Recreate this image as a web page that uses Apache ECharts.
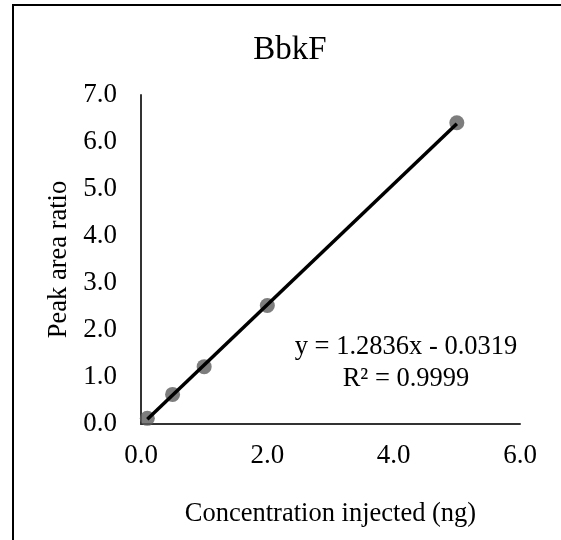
<!DOCTYPE html>
<html>
<head>
<meta charset="utf-8">
<script src="https://cdn.jsdelivr.net/npm/echarts@6/dist/echarts.min.js"></script>
<style>
html,body{margin:0;padding:0;background:#fff;}
#c{width:561px;height:540px;}
</style>
</head>
<body>
<div id="c"></div>
<script>
// Data
const xValues = [0.1, 0.5, 1.0, 2.0, 5.0];
const yValues = [0.12, 0.63, 1.22, 2.52, 6.41];
const trendX = [0.1, 5.0];
const trendY = [0.10, 6.39];
const titleText = 'BbkF';
const xTitle = 'Concentration injected (ng)';
const yTitle = 'Peak area ratio';
const equationLines = ['y = 1.2836x - 0.0319', 'R² = 0.9999'];

const FONT = '"Liberation Serif", "Times New Roman", serif';
const chart = echarts.init(document.getElementById('c'), null, {renderer: 'canvas'});

const points = xValues.map((x, i) => [x, yValues[i]]);
const trend = trendX.map((x, i) => [x, trendY[i]]);

chart.setOption({
  backgroundColor: '#ffffff',
  animation: false,
  title: {
    text: titleText,
    left: 290,
    textAlign: 'center',
    top: 34,
    padding: 0,
    textStyle: {fontFamily: FONT, fontSize: 33, fontWeight: 'normal', color: '#000'}
  },
  grid: {left: 141, top: 95, right: 41, bottom: 116, containLabel: false},
  xAxis: {
    type: 'value', min: 0, max: 6, interval: 2,
    name: xTitle, nameLocation: 'middle', nameGap: 77,
    nameTextStyle: {fontFamily: FONT, fontSize: 26.5, color: '#000'},
    axisLine: {show: true, onZero: false, lineStyle: {color: '#333', width: 2}},
    axisTick: {show: false},
    splitLine: {show: false},
    axisLabel: {fontFamily: FONT, fontSize: 27, color: '#000', margin: 18,
      formatter: v => v.toFixed(1)}
  },
  yAxis: {
    type: 'value', min: 0, max: 7, interval: 1,
    name: yTitle, nameLocation: 'middle', nameGap: 58, nameRotate: 90,
    nameTextStyle: {fontFamily: FONT, fontSize: 26.5, color: '#000'},
    axisLine: {show: true, onZero: false, lineStyle: {color: '#333', width: 2}},
    axisTick: {show: false},
    splitLine: {show: false},
    axisLabel: {fontFamily: FONT, fontSize: 27, color: '#000', margin: 24,
      formatter: v => v.toFixed(1)}
  },
  series: [
    {
      type: 'scatter', data: points, symbol: 'circle', symbolSize: 15,
      itemStyle: {color: '#5c5c5c'}, z: 2
    },
    {
      type: 'line', data: trend, showSymbol: false, symbol: 'none',
      lineStyle: {color: '#000', width: 3.5}, z: 3
    }
  ],
  graphic: [
    {
      type: 'rect', silent: true, z: 100,
      shape: {x: 13, y: 5, width: 700, height: 700},
      style: {fill: 'none', stroke: '#000', lineWidth: 2}
    },
    {
      type: 'text', silent: true, z: 100,
      style: {
        text: equationLines.join('\n'), x: 406, y: 363,
        textAlign: 'center', textVerticalAlign: 'middle',
        font: '26.5px ' + FONT, fill: '#000', lineHeight: 32
      }
    }
  ]
});
</script>
</body>
</html>
